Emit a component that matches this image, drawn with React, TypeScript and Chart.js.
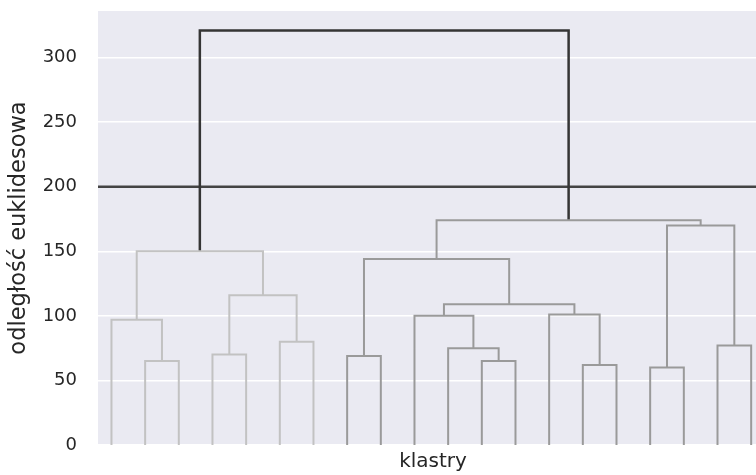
import { useEffect, useRef } from "react";
import { Chart, registerables } from "chart.js";

Chart.register(...registerables);

// Hierarchical clustering result: 20 leaves, merges listed bottom-up.
// Node ids below leafCount are leaves; id leafCount + k is merge k.
const leafCount = 20;
const mergeA = [1, 0, 3, 5, 22, 21, 7, 11, 10, 9, 14, 13, 29, 26, 16, 18, 34, 33, 25];
const mergeB = [2, 20, 4, 6, 23, 24, 8, 12, 27, 28, 15, 30, 31, 32, 17, 19, 35, 36, 37];
const mergeHeight = [65, 97, 70, 80, 116, 150, 69, 65, 75, 100, 62, 101, 109, 144, 60, 77, 170, 174, 321];
const mergeGroup = [
  "c1", "c1", "c1", "c1", "c1", "c1",
  "c2", "c2", "c2", "c2", "c2", "c2", "c2", "c2", "c2", "c2", "c2", "c2",
  "top",
];
const cutHeight = 200;
const yTickStep = 50;
const yLabel = "odległość euklidesowa";
const xLabel = "klastry";

const groupColor: Record<string, string> = {
  c1: "#c2c2c2",
  c2: "#9a9a9a",
  top: "#353535",
};

const FONT = "'DejaVu Sans', 'Liberation Sans', Arial, sans-serif";

export default function App() {
  const canvasRef = useRef<HTMLCanvasElement | null>(null);

  useEffect(() => {
    const canvas = canvasRef.current;
    if (!canvas) return;

    // leaf positions follow the usual dendrogram layout: 5, 15, 25, ...
    const nodeX: number[] = [];
    const nodeY: number[] = [];
    for (let i = 0; i < leafCount; i++) {
      nodeX.push(5 + 10 * i);
      nodeY.push(0);
    }

    const linkSets = mergeA.map((a, k) => {
      const b = mergeB[k];
      const h = mergeHeight[k];
      nodeX.push((nodeX[a] + nodeX[b]) / 2);
      nodeY.push(h);
      const g = mergeGroup[k];
      return {
        data: [
          { x: nodeX[a], y: nodeY[a] },
          { x: nodeX[a], y: h },
          { x: nodeX[b], y: h },
          { x: nodeX[b], y: nodeY[b] },
        ],
        showLine: true,
        borderColor: groupColor[g],
        borderWidth: g === "top" ? 2.5 : 2,
        borderJoinStyle: "miter" as const,
        pointRadius: 0,
        fill: false,
      };
    });

    const cutSet = {
      data: [
        { x: 1, y: cutHeight },
        { x: 200, y: cutHeight },
      ],
      showLine: true,
      borderColor: "#444444",
      borderWidth: 2.5,
      pointRadius: 0,
      fill: false,
    };

    const background = {
      id: "plotBackground",
      beforeDraw(chart: Chart) {
        const { ctx, chartArea } = chart;
        ctx.save();
        ctx.fillStyle = "#eaeaf2";
        ctx.fillRect(chartArea.left, chartArea.top, chartArea.right - chartArea.left, chartArea.bottom - chartArea.top);
        ctx.restore();
      },
    };

    const chart = new Chart(canvas, {
      type: "scatter",
      data: { datasets: [...linkSets, cutSet] as any },
      plugins: [background],
      options: {
        animation: false,
        responsive: false,
        events: [],
        layout: { padding: 0 },
        plugins: {
          legend: { display: false },
          tooltip: { enabled: false },
        },
        scales: {
          x: {
            type: "linear",
            min: 1,
            max: 200,
            grid: { display: false, drawTicks: false },
            border: { display: false },
            ticks: { display: false },
            title: {
              display: true,
              text: xLabel,
              color: "#262626",
              font: { family: FONT, size: 20 },
              padding: { top: 0, bottom: 1 },
            },
            afterFit(scale: any) {
              scale.height = 30;
            },
          },
          y: {
            type: "linear",
            min: 0,
            max: 336,
            grid: { color: "#ffffff", lineWidth: 1.5, drawTicks: false },
            border: { display: false },
            ticks: {
              stepSize: yTickStep,
              includeBounds: false,
              color: "#262626",
              padding: 21,
              font: { family: FONT, size: 18 },
            },
            title: {
              display: true,
              text: yLabel,
              color: "#262626",
              font: { family: FONT, size: 22.5 },
              padding: { top: 6, bottom: 0 },
            },
            afterFit(scale: any) {
              scale.width = 98;
              // plot area spans 11px from the top to 30px above the bottom
              scale.paddingTop = 11;
              scale.paddingBottom = 0;
            },
          },
        },
      },
    });

    return () => chart.destroy();
  }, []);

  return (
    <div
      style={{
        position: "fixed",
        left: 0,
        top: 0,
        width: 756,
        height: 475,
        overflow: "hidden",
        background: "#ffffff",
      }}
    >
      <canvas ref={canvasRef} width={768} height={475} style={{ display: "block" }} />
    </div>
  );
}
